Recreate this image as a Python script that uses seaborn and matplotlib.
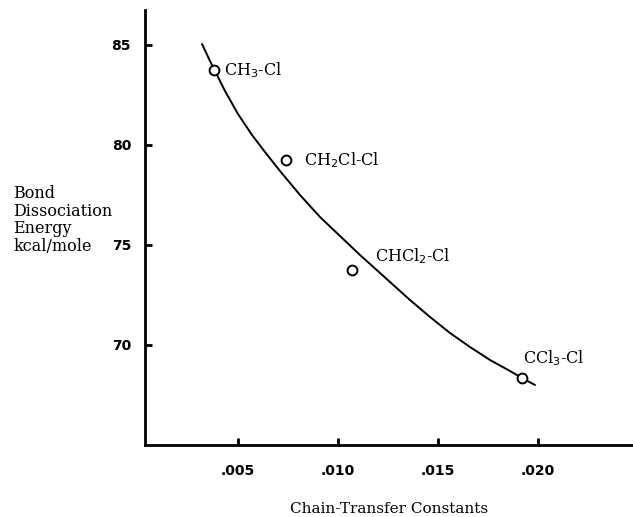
import matplotlib
matplotlib.use("Agg")
import matplotlib.pyplot as plt
import seaborn as sns
import pandas as pd

# Data points (chain-transfer constant, bond dissociation energy)
compounds = ["CH$_3$-Cl", "CH$_2$Cl-Cl", "CHCl$_2$-Cl", "CCl$_3$-Cl"]
transfer_const = [0.0038, 0.0074, 0.0107, 0.0192]
bond_energy = [83.75, 79.25, 73.75, 68.35]

# Smooth curve
curve_x = [0.0032, 0.0036, 0.00385, 0.00435, 0.0050, 0.0057, 0.00635,
           0.0071, 0.0081, 0.0091, 0.0101, 0.0111, 0.0121, 0.0126,
           0.0136, 0.0146, 0.0156, 0.0166, 0.0176, 0.0186, 0.0192, 0.01985]
curve_y = [85.05, 84.20, 83.70, 82.70, 81.55, 80.50, 79.65,
           78.70, 77.50, 76.40, 75.45, 74.50, 73.60, 73.15,
           72.25, 71.40, 70.60, 69.90, 69.25, 68.70, 68.35, 68.00]

x_ticks = [0.005, 0.010, 0.015, 0.020]
x_tick_labels = [".005", ".010", ".015", ".020"]
y_ticks = [70, 75, 80, 85]
y_tick_labels = ["70", "75", "80", "85"]

# label offsets in pixels (dx, dy)
label_offsets = [(10, 0), (18, 0), (23, 14), (1, 20)]

sns.set_style("ticks")
plt.rcParams["font.family"] = ["DejaVu Serif"]
plt.rcParams["text.color"] = "black"
plt.rcParams["xtick.color"] = "black"
plt.rcParams["ytick.color"] = "black"
plt.rcParams["axes.labelcolor"] = "black"

fig = plt.figure(figsize=(6.33, 5.17), dpi=100)
ax = fig.add_axes([145 / 633, 72 / 517, 1 - 145 / 633, (445 - 10) / 517])

curve_df = pd.DataFrame({"x": curve_x, "y": curve_y})
pts_df = pd.DataFrame({"x": transfer_const, "y": bond_energy, "name": compounds})

sns.lineplot(data=curve_df, x="x", y="y", sort=False, color="black",
             linewidth=1.4, ax=ax)
sns.scatterplot(data=pts_df, x="x", y="y", ax=ax, s=50, marker="o",
                facecolor="white", edgecolor="black", linewidth=1.4, zorder=3)

for name, xv, yv, (dx, dy) in zip(compounds, transfer_const, bond_energy, label_offsets):
    ax.annotate(name, (xv, yv), xytext=(dx * 0.72, dy * 0.72),
                textcoords="offset points", ha="left", va="center",
                fontsize=11.5, color="black")

ax.set_xlim((145 - 138) / 20000, (633 - 138) / 20000)
ax.set_ylim(65, 85 + 35 / 20)

ax.set_xticks(x_ticks)
ax.set_xticklabels(x_tick_labels, fontsize=10, fontweight="bold",
                   family="DejaVu Sans")
ax.set_yticks(y_ticks)
ax.set_yticklabels(y_tick_labels, fontsize=10, fontweight="bold",
                   family="DejaVu Sans")
ax.tick_params(axis="both", which="major", direction="in", length=5, width=2,
               color="black", left=True, bottom=True)
ax.tick_params(axis="x", pad=14)
ax.tick_params(axis="y", pad=10)

ax.set_xlabel("Chain-Transfer Constants", fontsize=11, labelpad=17)
ax.set_ylabel("")
fig.text(13 / 633, 1 - 185 / 517, "Bond\nDissociation\nEnergy\nkcal/mole",
         ha="left", va="top", fontsize=11.5, linespacing=1.05)

for side in ["top", "right"]:
    ax.spines[side].set_visible(False)
for side in ["left", "bottom"]:
    ax.spines[side].set_linewidth(2)
    ax.spines[side].set_color("black")

fig.savefig("out.png", dpi=100)
